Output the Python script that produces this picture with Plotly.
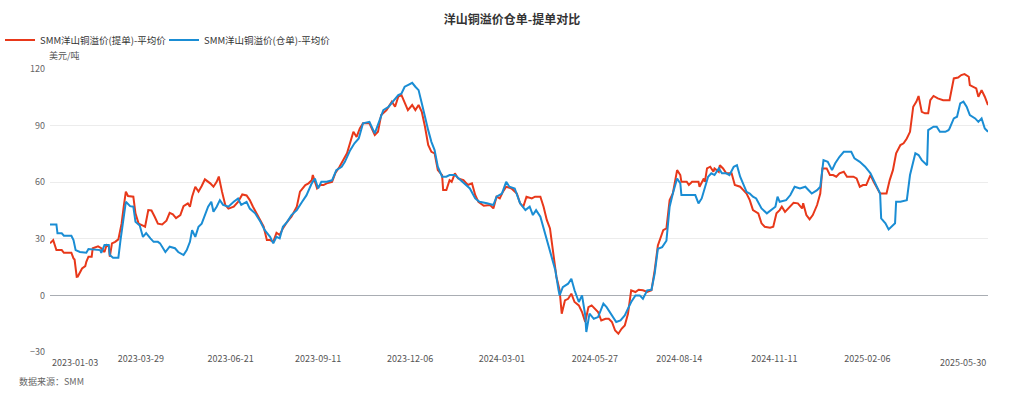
import plotly.graph_objects as go

# ---------------- data ----------------
bill_dates = [
    "2023-01-03","2023-01-06","2023-01-09","2023-01-14","2023-01-16","2023-01-23","2023-01-25","2023-01-26",
    "2023-01-28","2023-01-29","2023-02-02","2023-02-05","2023-02-06","2023-02-08","2023-02-11","2023-02-12",
    "2023-02-17","2023-02-20","2023-02-23","2023-02-25","2023-02-27","2023-02-28","2023-03-02","2023-03-05",
    "2023-03-08","2023-03-09","2023-03-11","2023-03-13","2023-03-15","2023-03-17","2023-03-22","2023-03-24",
    "2023-03-27","2023-03-31","2023-04-02","2023-04-05","2023-04-08","2023-04-11","2023-04-14","2023-04-18",
    "2023-04-22","2023-04-25","2023-04-28","2023-05-01","2023-05-05","2023-05-08","2023-05-12","2023-05-14",
    "2023-05-16","2023-05-19","2023-05-22","2023-05-25","2023-05-28","2023-06-02","2023-06-05","2023-06-08",
    "2023-06-10","2023-06-13","2023-06-16","2023-06-19","2023-06-24","2023-06-28","2023-07-02","2023-07-06",
    "2023-07-09","2023-07-12","2023-07-17","2023-07-22","2023-07-25","2023-07-28","2023-07-31","2023-08-03",
    "2023-08-06","2023-08-09","2023-08-13","2023-08-17","2023-08-22","2023-08-25","2023-08-30","2023-09-02",
    "2023-09-05","2023-09-06","2023-09-10","2023-09-13","2023-09-16","2023-09-19","2023-09-24","2023-09-27",
    "2023-10-01","2023-10-08","2023-10-14","2023-10-17","2023-10-20","2023-10-23","2023-10-29","2023-11-03",
    "2023-11-06","2023-11-09","2023-11-14","2023-11-19","2023-11-22","2023-11-25","2023-11-28","2023-12-01",
    "2023-12-04","2023-12-08","2023-12-11","2023-12-14","2023-12-17","2023-12-20","2023-12-23","2023-12-26",
    "2023-12-29","2024-01-01","2024-01-05","2024-01-06","2024-01-09","2024-01-12","2024-01-14","2024-01-17",
    "2024-01-20","2024-01-25","2024-01-29","2024-02-02","2024-02-05","2024-02-08","2024-02-13","2024-02-19",
    "2024-02-22","2024-02-25","2024-02-28","2024-03-02","2024-03-05","2024-03-10","2024-03-15","2024-03-18",
    "2024-03-21","2024-03-24","2024-03-29","2024-04-01","2024-04-06","2024-04-09","2024-04-12","2024-04-15",
    "2024-04-18","2024-04-21","2024-04-24","2024-04-26","2024-04-29","2024-05-02","2024-05-05","2024-05-08",
    "2024-05-12","2024-05-15","2024-05-18","2024-05-21","2024-05-24","2024-05-27","2024-05-30","2024-06-02",
    "2024-06-06","2024-06-09","2024-06-12","2024-06-15","2024-06-18","2024-06-21","2024-06-24","2024-06-27",
    "2024-06-30","2024-07-04","2024-07-07","2024-07-11","2024-07-15","2024-07-19","2024-07-22","2024-07-25",
    "2024-07-30","2024-08-02","2024-08-05","2024-08-08","2024-08-12","2024-08-15","2024-08-16","2024-08-21",
    "2024-08-23","2024-08-26","2024-09-01","2024-09-02","2024-09-06","2024-09-07","2024-09-09","2024-09-12",
    "2024-09-15","2024-09-16","2024-09-20","2024-09-21","2024-09-24","2024-09-27","2024-10-02","2024-10-05",
    "2024-10-10","2024-10-13","2024-10-16","2024-10-19","2024-10-22","2024-10-27","2024-10-30","2024-11-02",
    "2024-11-07","2024-11-10","2024-11-13","2024-11-16","2024-11-18","2024-11-21","2024-11-24","2024-11-29",
    "2024-12-03","2024-12-07","2024-12-08","2024-12-11","2024-12-14","2024-12-17","2024-12-21","2024-12-24",
    "2024-12-26","2024-12-30","2025-01-02","2025-01-05","2025-01-08","2025-01-11","2025-01-15","2025-01-18",
    "2025-01-24","2025-01-27","2025-01-30","2025-02-02","2025-02-05","2025-02-09","2025-02-12","2025-02-15",
    "2025-02-18","2025-02-24","2025-02-27","2025-03-02","2025-03-05","2025-03-09","2025-03-12","2025-03-15",
    "2025-03-18","2025-03-21","2025-03-24","2025-03-26","2025-03-29","2025-04-01","2025-04-04","2025-04-06",
    "2025-04-09","2025-04-13","2025-04-18","2025-04-24","2025-04-28","2025-05-02","2025-05-05","2025-05-08",
    "2025-05-12","2025-05-13","2025-05-16","2025-05-19","2025-05-21","2025-05-24","2025-05-27","2025-05-30",
]
bill_values = [
    27.6,29.3,24.0,24.0,22.6,22.6,19.6,19.0,
    9.9,10.0,14.3,15.5,17.8,20.5,20.5,25.0,
    26.0,25.0,23.0,26.7,26.0,20.5,27.6,28.4,
    29.7,33.0,38.0,47.0,55.0,52.7,52.3,43.5,
    38.0,37.0,36.4,45.2,45.0,41.7,38.0,37.6,
    39.6,43.8,43.0,41.0,42.6,47.3,48.8,47.0,
    52.3,57.6,55.0,58.0,61.5,59.4,57.6,60.2,
    63.0,55.0,48.0,46.0,47.0,49.6,53.5,53.0,
    50.5,47.0,41.7,36.4,29.3,29.3,28.4,33.2,
    32.0,35.5,39.0,41.7,47.0,55.0,58.5,59.4,
    61.0,63.8,56.7,58.5,58.5,59.4,60.2,64.7,
    68.2,75.3,86.7,84.0,88.5,91.2,91.2,85.0,
    86.7,95.6,98.2,102.7,100.0,105.3,106.2,101.8,
    98.2,100.9,98.2,100.9,97.3,89.4,79.7,76.1,
    75.3,66.4,63.8,55.8,55.8,61.1,60.2,64.7,
    62.0,61.1,58.5,59.4,53.2,49.6,47.5,47.9,
    46.1,52.3,51.4,55.0,57.6,56.7,54.0,48.8,
    47.0,52.3,51.4,52.3,52.3,47.0,40.0,35.5,
    24.0,9.9,2.8,-9.7,-2.7,-1.8,0.9,-3.5,
    -5.3,-8.8,-14.1,-6.2,-5.3,-7.0,-8.8,-13.3,
    -12.4,-12.4,-14.1,-18.6,-20.3,-17.7,-15.9,-9.7,
    2.7,1.8,3.0,2.7,1.8,2.7,13.3,26.5,
    34.6,35.5,50.5,54.0,66.4,63.8,60.2,60.2,
    58.5,60.2,60.2,57.6,62.0,60.2,67.3,68.2,
    65.5,67.3,65.5,69.0,67.3,64.7,64.7,58.5,
    57.6,55.8,54.0,50.5,45.2,43.5,38.2,36.4,
    35.9,36.4,43.5,45.2,47.0,44.3,46.1,49.1,
    48.8,46.1,48.8,42.6,40.3,42.6,47.9,54.0,
    67.3,67.3,63.8,63.8,62.9,64.7,65.5,62.9,
    62.9,62.0,57.6,58.5,58.5,63.8,60.2,56.7,
    54.0,54.0,61.1,66.4,75.3,79.7,80.6,83.2,
    86.7,100.0,102.7,105.7,97.3,96.5,96.5,103.5,
    105.7,104.4,103.5,103.5,115.0,115.5,116.8,117.3,
    115.9,111.5,110.6,109.7,105.3,108.8,105.3,100.9,
]

warrant_dates = [
    "2023-01-03","2023-01-09","2023-01-10","2023-01-14","2023-01-16","2023-01-23","2023-01-25","2023-01-27",
    "2023-01-31","2023-02-06","2023-02-08","2023-02-19","2023-02-20","2023-02-23","2023-02-27","2023-02-28",
    "2023-03-03","2023-03-08","2023-03-10","2023-03-13","2023-03-15","2023-03-19","2023-03-22","2023-03-24",
    "2023-03-28","2023-03-31","2023-04-03","2023-04-07","2023-04-10","2023-04-14","2023-04-16","2023-04-21",
    "2023-04-25","2023-04-30","2023-05-03","2023-05-08","2023-05-11","2023-05-14","2023-05-16","2023-05-19",
    "2023-05-22","2023-05-25","2023-05-28","2023-05-31","2023-06-03","2023-06-05","2023-06-08","2023-06-11",
    "2023-06-14","2023-06-19","2023-06-24","2023-06-28","2023-07-01","2023-07-06","2023-07-09","2023-07-14",
    "2023-07-19","2023-07-23","2023-07-28","2023-07-31","2023-08-03","2023-08-06","2023-08-09","2023-08-13",
    "2023-08-17","2023-08-22","2023-08-27","2023-08-31","2023-09-05","2023-09-08","2023-09-11","2023-09-14",
    "2023-09-19","2023-09-24","2023-09-28","2023-10-03","2023-10-06","2023-10-11","2023-10-15","2023-10-19",
    "2023-10-23","2023-10-29","2023-11-03","2023-11-08","2023-11-11","2023-11-16","2023-11-20","2023-11-25",
    "2023-11-28","2023-12-01","2023-12-04","2023-12-08","2023-12-11","2023-12-14","2023-12-17","2023-12-20",
    "2023-12-23","2023-12-26","2023-12-29","2024-01-01","2024-01-05","2024-01-09","2024-01-12","2024-01-17",
    "2024-01-22","2024-01-26","2024-01-31","2024-02-05","2024-02-09","2024-02-16","2024-02-22","2024-02-25",
    "2024-03-01","2024-03-05","2024-03-08","2024-03-13","2024-03-18","2024-03-23","2024-03-27","2024-03-30",
    "2024-04-02","2024-04-06","2024-04-09","2024-04-12","2024-04-16","2024-04-20","2024-04-23","2024-04-24",
    "2024-04-27","2024-05-02","2024-05-05","2024-05-08","2024-05-12","2024-05-15","2024-05-18","2024-05-19",
    "2024-05-22","2024-05-26","2024-05-30","2024-06-04","2024-06-07","2024-06-12","2024-06-16","2024-06-20",
    "2024-06-24","2024-06-27","2024-06-30","2024-07-04","2024-07-08","2024-07-11","2024-07-15","2024-07-19",
    "2024-07-22","2024-07-25","2024-07-29","2024-08-02","2024-08-05","2024-08-08","2024-08-12","2024-08-15",
    "2024-08-16","2024-08-29","2024-09-01","2024-09-04","2024-09-07","2024-09-10","2024-09-13","2024-09-16",
    "2024-09-20","2024-09-23","2024-09-27","2024-09-30","2024-10-04","2024-10-07","2024-10-10","2024-10-13",
    "2024-10-16","2024-10-19","2024-10-22","2024-10-25","2024-10-30","2024-11-04","2024-11-08","2024-11-12",
    "2024-11-14","2024-11-16","2024-11-22","2024-11-26","2024-11-30","2024-12-05","2024-12-10","2024-12-13",
    "2024-12-16","2024-12-21","2024-12-24","2024-12-27","2024-12-31","2025-01-04","2025-01-07","2025-01-11",
    "2025-01-15","2025-01-22","2025-01-25","2025-01-30","2025-02-04","2025-02-09","2025-02-13","2025-02-18",
    "2025-02-19","2025-02-23","2025-02-26","2025-03-01","2025-03-04","2025-03-05","2025-03-09","2025-03-15",
    "2025-03-18","2025-03-23","2025-03-26","2025-03-29","2025-04-03","2025-04-04","2025-04-09","2025-04-12",
    "2025-04-15","2025-04-20","2025-04-23","2025-04-24","2025-04-28","2025-05-01","2025-05-04","2025-05-07",
    "2025-05-10","2025-05-13","2025-05-18","2025-05-21","2025-05-24","2025-05-27","2025-05-30",
]
warrant_values = [
    37.6,37.6,32.9,32.9,31.6,31.6,29.3,24.0,
    23.0,22.6,24.6,24.0,22.6,26.7,26.7,21.4,
    20.0,20.0,29.3,40.0,49.6,47.3,47.0,39.0,
    37.0,31.0,33.0,30.2,28.4,28.4,27.6,23.0,
    25.8,25.0,23.0,21.4,24.0,28.4,34.6,31.0,
    36.4,38.0,42.6,47.0,49.6,44.3,47.0,50.5,
    48.0,47.0,49.6,51.4,48.0,49.6,46.0,43.5,
    39.0,34.6,31.0,27.6,31.0,30.2,36.4,39.0,
    42.6,45.2,49.6,53.0,59.4,62.0,56.7,60.2,
    60.2,61.0,66.4,68.2,70.8,77.0,80.6,83.2,
    91.2,92.0,85.9,93.8,98.2,100.0,102.7,106.2,
    107.0,110.6,111.5,112.7,110.6,108.8,101.8,93.8,
    87.6,81.4,77.0,68.2,62.9,62.9,63.8,63.8,
    61.1,59.4,56.7,51.4,49.6,48.8,47.9,52.3,
    54.0,60.2,57.6,56.7,48.8,45.2,47.0,42.6,
    45.2,41.7,35.5,29.3,22.3,13.4,2.8,0.0,
    4.4,6.2,8.8,2.7,-3.5,0.0,-10.6,-19.4,
    -9.7,-12.4,-11.5,-4.4,-6.2,-10.6,-14.1,-13.3,
    -10.6,-7.0,-3.5,0.0,0.0,-1.8,2.7,3.0,
    11.5,24.7,25.6,29.0,47.0,54.0,62.0,59.4,
    53.2,53.2,48.8,51.4,56.7,62.9,64.7,63.8,
    67.3,64.7,64.7,63.8,68.2,69.0,62.9,58.5,
    54.9,54.0,52.3,51.4,46.1,43.5,45.2,47.0,
    52.3,49.6,50.5,53.2,57.6,56.7,57.6,55.8,
    54.0,55.8,57.6,71.7,70.8,66.4,70.0,73.5,
    76.1,76.1,72.6,70.8,68.2,64.7,60.2,54.0,
    40.8,38.2,35.0,36.4,38.2,49.6,49.6,50.5,
    63.8,75.3,74.4,71.7,69.0,87.6,89.4,89.4,
    86.7,86.7,87.6,88.5,93.8,94.7,101.8,102.7,
    100.0,95.6,93.8,92.0,93.8,88.5,86.7,
]

series_names = ["SMM洋山铜溢价(提单)-平均价", "SMM洋山铜溢价(仓单)-平均价"]
tick_dates = ["2023-01-03", "2023-03-29", "2023-06-21", "2023-09-11", "2023-12-06",
              "2024-03-01", "2024-05-27", "2024-08-14", "2024-11-11", "2025-02-06", "2025-05-30"]
y_ticks = [-30, 0, 30, 60, 90, 120]

title_text = "洋山铜溢价仓单-提单对比"
unit_text = "美元/吨"
source_text = "数据来源：SMM"

RED = "#e8381a"
BLUE = "#1a8dd4"
FONT = "Noto Sans CJK SC, Microsoft YaHei, sans-serif"
W, H = 1024, 399
ML, MR, MT, MB = 50, 36, 69, 47

fig = go.Figure()
fig.add_trace(go.Scatter(x=bill_dates, y=bill_values, mode="lines", name=series_names[0],
                         line=dict(color=RED, width=2), legend="legend"))
fig.add_trace(go.Scatter(x=warrant_dates, y=warrant_values, mode="lines", name=series_names[1],
                         line=dict(color=BLUE, width=2), legend="legend2"))

mid_ticks = tick_dates[1:-1]
fig.update_xaxes(
    type="date", automargin=False,
    range=[tick_dates[0], tick_dates[-1]],
    tickmode="array", tickvals=mid_ticks, ticktext=mid_ticks,
    showgrid=False, showline=False, zeroline=False, ticks="",
    tickfont=dict(family=FONT, size=9, color="#555555"),
)
fig.update_yaxes(
    automargin=False,
    range=[y_ticks[0], y_ticks[-1]],
    tickmode="array", tickvals=y_ticks,
    showgrid=True, gridcolor="#ececec", gridwidth=1,
    zeroline=True, zerolinecolor="#a9adb3", zerolinewidth=1,
    showline=False, ticks="",
    tickfont=dict(family=FONT, size=9, color="#666666"),
    ticklabelstandoff=4,
)

label_font = dict(family=FONT, size=9, color="#555555")
# first / last x labels aligned to the plot edges
fig.add_annotation(x=tick_dates[0], y=0, xref="x", yref="paper", yshift=-10,
                   text=tick_dates[0], showarrow=False, xanchor="left", yanchor="middle",
                   font=label_font)
fig.add_annotation(x=tick_dates[-1], y=0, xref="x", yref="paper", yshift=-10,
                   text=tick_dates[-1], showarrow=False, xanchor="right", yanchor="middle",
                   font=label_font)
# unit label
fig.add_annotation(x=0, y=1, xref="paper", yref="paper", yshift=14, xshift=-3,
                   text=unit_text, showarrow=False, xanchor="left", yanchor="middle",
                   font=label_font)
# source note
fig.add_annotation(x=(17 - ML) / (W - ML - MR), y=((H - MB) - 381) / (H - MT - MB),
                   xref="paper", yref="paper",
                   text=source_text, showarrow=False, xanchor="left", yanchor="middle",
                   font=dict(family=FONT, size=9, color="#666666"))

legend_common = dict(orientation="h", xref="container", yref="container",
                     xanchor="left", y=1 - 40 / H, yanchor="middle",
                     font=dict(family=FONT, size=9.5, color="#333333"),
                     bgcolor="rgba(0,0,0,0)", itemwidth=30)

fig.update_layout(
    width=W, height=H,
    margin=dict(l=ML, r=MR, t=MT, b=MB, autoexpand=False),
    paper_bgcolor="white", plot_bgcolor="white",
    title=dict(text="<b>" + title_text + "</b>", x=0.5, xanchor="center", y=1 - 20 / H,
               yanchor="middle", font=dict(family=FONT, size=12, color="#333333")),
    legend=dict(x=-6 / W, **legend_common),
    legend2=dict(x=164 / W, **legend_common),
    showlegend=True,
    hovermode="x unified",
)

fig.write_html("out.html", config={"displayModeBar": False},
               post_script="document.body.style.margin='0px';")
